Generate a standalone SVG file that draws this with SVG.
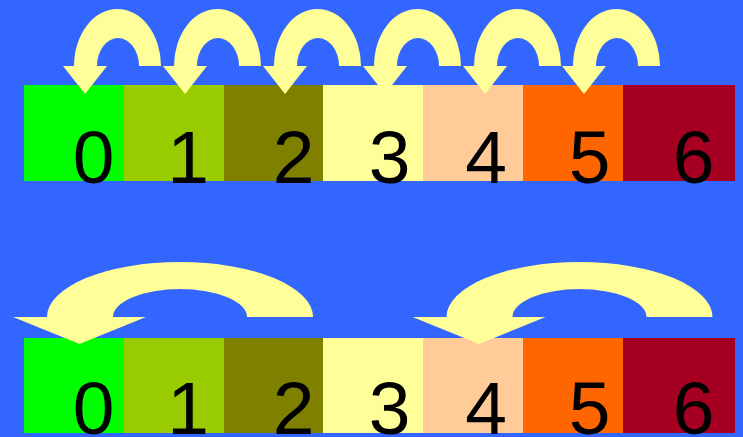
<svg xmlns="http://www.w3.org/2000/svg" xmlns:xlink="http://www.w3.org/1999/xlink" width="743" height="437" viewBox="0 0 743 437">
<style>
.num{font-family:"Liberation Sans",Arial,sans-serif;font-size:75px;fill:#000;text-anchor:middle}
.arr{fill:#FFFF99}
</style>
<defs>
<path id="hop" class="arr" d="M161,66 L139,66 A21,28 0 0 0 97,66 L107,66 L85,94 L63,66 L74,66 A43.5,57 0 0 1 161,66 Z"/>
<path id="jump" class="arr" d="M313,317 L247,317 A67,28 0 0 0 113,317 L146,317 L79.5,344 L13,317 L47,317 A133,55 0 0 1 313,317 Z"/>
</defs>
<rect width="743" height="437" fill="#3366FF"/>
<g id="top-row">
<g id="t0"><rect x="24" y="85" width="100" height="96" fill="#00FF00"/><text class="num" x="93.5" y="183">0</text></g>
<g id="t1"><rect x="124" y="85" width="100" height="96" fill="#99CC00"/><text class="num" x="188" y="183">1</text></g>
<g id="t2"><rect x="224" y="85" width="99" height="96" fill="#808000"/><text class="num" x="293.5" y="183">2</text></g>
<g id="t3"><rect x="323" y="85" width="100" height="96" fill="#FFFF99"/><text class="num" x="389.5" y="183">3</text></g>
<g id="t4"><rect x="423" y="85" width="100" height="96" fill="#FFCC99"/><text class="num" x="486" y="183">4</text></g>
<g id="t5"><rect x="523" y="85" width="100" height="96" fill="#FF6600"/><text class="num" x="589.5" y="183">5</text></g>
<g id="t6"><rect x="623" y="85" width="112" height="96" fill="#A50021"/><text class="num" x="693.5" y="183">6</text></g>
</g>
<g id="bottom-row">
<g id="b0"><rect x="24" y="338" width="100" height="95" fill="#00FF00"/><text class="num" x="93.5" y="434">0</text></g>
<g id="b1"><rect x="124" y="338" width="100" height="95" fill="#99CC00"/><text class="num" x="188" y="434">1</text></g>
<g id="b2"><rect x="224" y="338" width="99" height="95" fill="#808000"/><text class="num" x="293.5" y="434">2</text></g>
<g id="b3"><rect x="323" y="338" width="100" height="95" fill="#FFFF99"/><text class="num" x="389.5" y="434">3</text></g>
<g id="b4"><rect x="423" y="338" width="100" height="95" fill="#FFCC99"/><text class="num" x="486" y="434">4</text></g>
<g id="b5"><rect x="523" y="338" width="100" height="95" fill="#FF6600"/><text class="num" x="589.5" y="434">5</text></g>
<g id="b6"><rect x="623" y="338" width="112" height="95" fill="#A50021"/><text class="num" x="693.5" y="434">6</text></g>
</g>
<g id="connectors">
<use xlink:href="#hop" x="0"/>
<use xlink:href="#hop" x="100"/>
<use xlink:href="#hop" x="200"/>
<use xlink:href="#hop" x="300"/>
<use xlink:href="#hop" x="400"/>
<use xlink:href="#hop" x="499"/>
<use xlink:href="#jump" x="0"/>
<use xlink:href="#jump" x="399.5"/>
</g>
</svg>
